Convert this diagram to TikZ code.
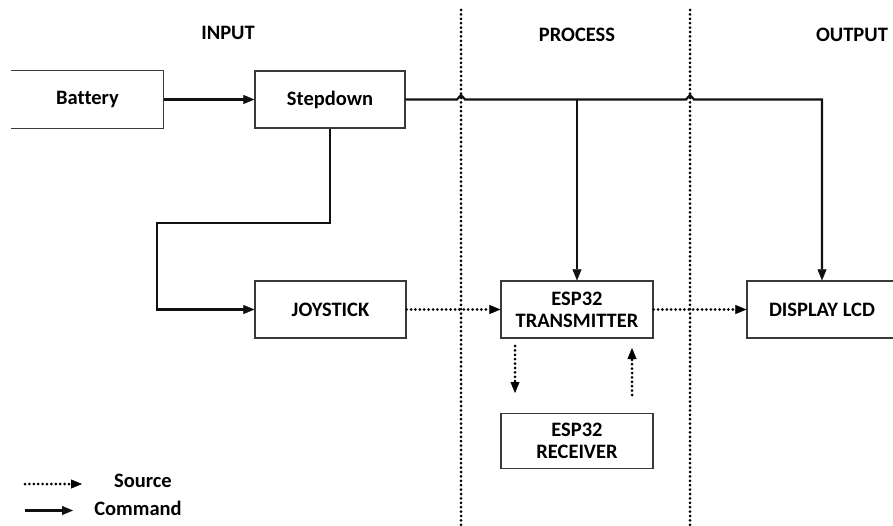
\documentclass[tikz,border=0pt]{standalone}
\usepackage{fontspec}
\setmainfont{Carlito}[Ligatures=NoCommon]
\usetikzlibrary{arrows.meta}
\definecolor{wire}{HTML}{111111}
\definecolor{boxedge}{HTML}{3A3A3A}

\begin{document}
\begin{tikzpicture}[x=1pt,y=-1pt,font=\fontsize{20.5}{22}\selectfont\bfseries,
  blk/.style={draw=boxedge,line width=1.2pt,minimum width=151pt,minimum height=57pt,inner sep=0pt,align=center},
  cmdline/.style={wire,line width=2.2pt},
  srcline/.style={black,line width=3pt,line cap=round,dash pattern=on 0pt off 4.4pt},
  tip/.style={-{Triangle[length=11pt,width=9pt,line width=0.4pt]}}]
\path[use as bounding box] (0,0) rectangle (893,526);
\node (hin) at (228,33) {INPUT};
\node (hproc) at (577,35) {PROCESS};
\node (hout) at (852,35) {OUTPUT};
\draw[srcline] (461,10)--(461,526);
\draw[srcline] (690,10)--(690,526);
\node[blk,draw=none] (bat) at (87.5,99.5) {Battery};
\draw[boxedge,line width=1.2pt] (bat.north west)--(bat.north east)--(bat.south east)--(bat.south west);
\node[blk,minimum width=150pt] (stp) at (330,99.5) {Stepdown};
\node[blk] (joy) at (330.5,309.5) {JOYSTICK};
\node[blk,minimum width=152pt] (esptx) at (577,309.5) {ESP32\\TRANSMITTER};
\node[blk,minimum width=150pt] (dsp) at (822,309.5) {DISPLAY LCD};
\node[blk,minimum width=152pt,minimum height=55pt] (esprx) at (577,441) {ESP32\\RECEIVER};
\coordinate (hopa) at (461,99.5);
\coordinate (hopb) at (690,99.5);
\draw[cmdline,tip] (bat)--(stp);
\draw[cmdline,tip] (stp.east)--([xshift=-4pt]hopa)--([yshift=4.5pt]hopa)--([xshift=4pt]hopa)
  --([xshift=-4pt]hopb)--([yshift=4.5pt]hopb)--([xshift=4pt]hopb)--(dsp.north |- stp.east)--(dsp.north);
\draw[cmdline,tip] (esptx.north |- stp.east)--(esptx.north);
\draw[cmdline,tip] (stp.south)--(stp.south |- 0,223)--(157,223) |- (joy.west);
\draw[srcline,tip] (joy)--(esptx);
\draw[srcline,tip] (esptx)--(dsp);
\coordinate (dnA) at (515,346);
\coordinate (dnB) at (515,393);
\coordinate (upA) at (632,395);
\coordinate (upB) at (632,348);
\draw[srcline,tip] (dnA)--(dnB);
\draw[srcline,tip] (upA)--(upB);
\coordinate (lgsA) at (25,484);
\coordinate (lgsB) at (82,484);
\coordinate (lgcA) at (25,510.5);
\coordinate (lgcB) at (73,510.5);
\draw[srcline,tip] (lgsA)--(lgsB);
\draw[cmdline,tip] (lgcA)--(lgcB);
\node (src) at (143,481) {Source};
\node (cmd) at (138,508) {Command};
\end{tikzpicture}
\end{document}
